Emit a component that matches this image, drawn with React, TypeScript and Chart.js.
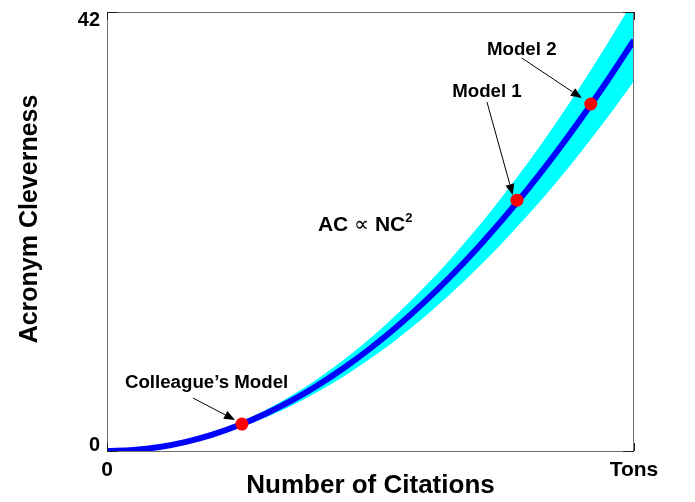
import { useEffect, useRef } from 'react';
import { Chart, registerables } from 'chart.js';

Chart.register(...registerables);

// ---- data ----
const xValues = [0, 0.05, 0.1, 0.15, 0.2, 0.25, 0.3, 0.35, 0.4, 0.45, 0.5, 0.55, 0.6, 0.65, 0.7, 0.75, 0.8, 0.85, 0.9, 0.95, 1.0];
const centerValues = [0, 0.1, 0.39, 0.88, 1.57, 2.46, 3.54, 4.81, 6.29, 7.96, 9.83, 11.89, 14.15, 16.6, 19.26, 22.11, 25.15, 28.39, 31.83, 35.47, 39.3];
const upperValues = [0, 0.11, 0.43, 0.97, 1.73, 2.7, 3.89, 5.3, 6.92, 8.75, 10.81, 13.08, 15.56, 18.26, 21.18, 24.32, 27.67, 31.23, 35.02, 39.01, 43.2];
const lowerValues = [0, 0.09, 0.35, 0.8, 1.41, 2.21, 3.18, 4.33, 5.66, 7.16, 8.84, 10.7, 12.73, 14.94, 17.33, 19.9, 22.64, 25.55, 28.65, 31.92, 35.4];

const modelNames = ["Colleague\u2019s Model", 'Model 1', 'Model 2'];
const modelX = [0.256, 0.778, 0.918];
const modelY = [2.58, 24.0, 33.2];

const xTickValues = [0, 1];
const xTickLabels = ['0', 'Tons'];
const yTickValues = [0, 42];
const yTickLabels = ['0', '42'];

const xTitle = 'Number of Citations';
const yTitle = 'Acronym Cleverness';

// annotation placement (data units)
const annotations = [
  { label: modelNames[0], lx: 0.189, ly: 6.55, tx: 0.163, ty: 5.07, hx: 0.243, hy: 2.97 },
  { label: modelNames[1], lx: 0.721, ly: 34.35, tx: 0.721, ty: 33.39, hx: 0.77, hy: 24.49 },
  { label: modelNames[2], lx: 0.787, ly: 38.41, tx: 0.787, ty: 37.6, hx: 0.901, hy: 33.77 },
];
const formulaPos = { x: 0.49, y: 21.77 };

const FONT = '"Liberation Sans", Arial, Helvetica, sans-serif';

const decorPlugin = {
  id: 'decor',
  afterDatasetsDraw(chart: any) {
    const { ctx, chartArea, scales } = chart;
    const xs = scales.x;
    const ys = scales.y;
    const { left, right, top, bottom } = chartArea;
    ctx.save();

    // box
    ctx.strokeStyle = '#6e6e6e';
    ctx.lineWidth = 1;
    ctx.strokeRect(left + 0.5, top + 0.5, right - left - 1, bottom - top);
    // ticks
    ctx.strokeStyle = '#222';
    ctx.beginPath();
    xTickValues.forEach((v) => {
      const px = Math.round(xs.getPixelForValue(v)) + 0.5;
      ctx.moveTo(px, bottom); ctx.lineTo(px, bottom - 8);
      ctx.moveTo(px, top); ctx.lineTo(px, top + 8);
    });
    yTickValues.forEach((v) => {
      const py = Math.round(ys.getPixelForValue(v)) + 0.5;
      ctx.moveTo(left, py); ctx.lineTo(left + 11, py);
      ctx.moveTo(right, py); ctx.lineTo(right - 11, py);
    });
    ctx.stroke();

    ctx.fillStyle = '#000';
    // y tick labels
    ctx.font = 'bold 20px ' + FONT;
    ctx.textAlign = 'right';
    yTickValues.forEach((v, i) => {
      const py = ys.getPixelForValue(v);
      ctx.textBaseline = i === 0 ? 'alphabetic' : 'top';
      ctx.fillText(yTickLabels[i], left - 7, i === 0 ? py : py - 2);
    });
    // x tick labels
    ctx.font = 'bold 21px ' + FONT;
    ctx.textAlign = 'center';
    ctx.textBaseline = 'middle';
    xTickValues.forEach((v, i) => {
      const px = xs.getPixelForValue(v);
      ctx.fillText(xTickLabels[i], px, bottom + 19);
    });

    // axis titles
    ctx.font = 'bold 26px ' + FONT;
    ctx.save();
    ctx.translate((left + right) / 2, bottom + 35);
    ctx.fillText(xTitle, 0, 0);
    ctx.restore();
    ctx.font = 'bold 25px ' + FONT;
    ctx.save();
    ctx.translate(30, 219);
    ctx.rotate(-Math.PI / 2);
    ctx.fillText(yTitle, 0, 0);
    ctx.restore();

    // annotations
    annotations.forEach((a) => {
      const lx = xs.getPixelForValue(a.lx);
      const ly = ys.getPixelForValue(a.ly);
      const tx = xs.getPixelForValue(a.tx);
      const ty = ys.getPixelForValue(a.ty);
      const hx = xs.getPixelForValue(a.hx);
      const hy = ys.getPixelForValue(a.hy);
      ctx.font = 'bold 18.7px ' + FONT;
      ctx.textAlign = 'center';
      ctx.textBaseline = 'middle';
      ctx.fillText(a.label, lx, ly);
      const ang = Math.atan2(hy - ty, hx - tx);
      const L = 11, W = 4.5;
      const bx = hx - L * Math.cos(ang);
      const by = hy - L * Math.sin(ang);
      ctx.strokeStyle = '#000';
      ctx.lineWidth = 1;
      ctx.beginPath();
      ctx.moveTo(tx, ty);
      ctx.lineTo(bx, by);
      ctx.stroke();
      ctx.beginPath();
      ctx.moveTo(hx, hy);
      ctx.lineTo(bx + W * Math.sin(ang), by - W * Math.cos(ang));
      ctx.lineTo(bx - W * Math.sin(ang), by + W * Math.cos(ang));
      ctx.closePath();
      ctx.fill();
    });

    // formula
    const fx = xs.getPixelForValue(formulaPos.x);
    const fy = ys.getPixelForValue(formulaPos.y);
    const parts = [
      { t: 'AC ', f: 'bold 21px ' + FONT, dy: 0 },
      { t: '\u221D', f: '21px ' + FONT, dy: 0 },
      { t: ' NC', f: 'bold 21px ' + FONT, dy: 0 },
      { t: '2', f: 'bold 13px ' + FONT, dy: -9 },
    ];
    let total = 0;
    parts.forEach((p) => { ctx.font = p.f; total += ctx.measureText(p.t).width; });
    let cx = fx - total / 2;
    ctx.textAlign = 'left';
    ctx.textBaseline = 'alphabetic';
    parts.forEach((p) => {
      ctx.font = p.f;
      ctx.fillText(p.t, cx, fy + 7.5 + p.dy);
      cx += ctx.measureText(p.t).width;
    });

    ctx.restore();
  },
};

export default function App() {
  const ref = useRef<HTMLCanvasElement | null>(null);
  useEffect(() => {
    document.body.style.margin = '0';
    const canvas = ref.current;
    if (!canvas) return;
    const band = xValues.map((x, i) => ({ x, y: upperValues[i] }));
    const bandLow = xValues.map((x, i) => ({ x, y: lowerValues[i] }));
    const line = xValues.map((x, i) => ({ x, y: centerValues[i] }));
    const pts = modelX.map((x, i) => ({ x, y: modelY[i] }));
    const chart = new Chart(canvas, {
      type: 'line',
      data: {
        datasets: [
          { data: pts, showLine: false, pointRadius: 6.5, pointBackgroundColor: '#ff0000', pointBorderWidth: 0, borderColor: '#ff0000', order: 0 } as any,
          { data: line, borderColor: '#0000ff', borderWidth: 6, pointRadius: 0, cubicInterpolationMode: 'monotone', fill: false, order: 1, borderCapStyle: 'butt' } as any,
          { data: band, borderWidth: 0, borderColor: 'rgba(0,0,0,0)', backgroundColor: '#00ffff', pointRadius: 0, cubicInterpolationMode: 'monotone', fill: '+1', order: 2 } as any,
          { data: bandLow, borderWidth: 0, borderColor: 'rgba(0,0,0,0)', pointRadius: 0, cubicInterpolationMode: 'monotone', fill: false, order: 3 } as any,
        ],
      },
      options: {
        animation: false,
        responsive: false,
        layout: { padding: { left: 107, right: 61, top: 12, bottom: 51 } },
        plugins: { legend: { display: false }, tooltip: { enabled: false } },
        scales: {
          x: { type: 'linear', min: 0, max: 1, display: false },
          y: { type: 'linear', min: 0, max: 42, display: false },
        },
      },
      plugins: [decorPlugin],
    });
    return () => chart.destroy();
  }, []);
  return <canvas ref={ref} width={695} height={502} style={{ display: 'block' }} />;
}
